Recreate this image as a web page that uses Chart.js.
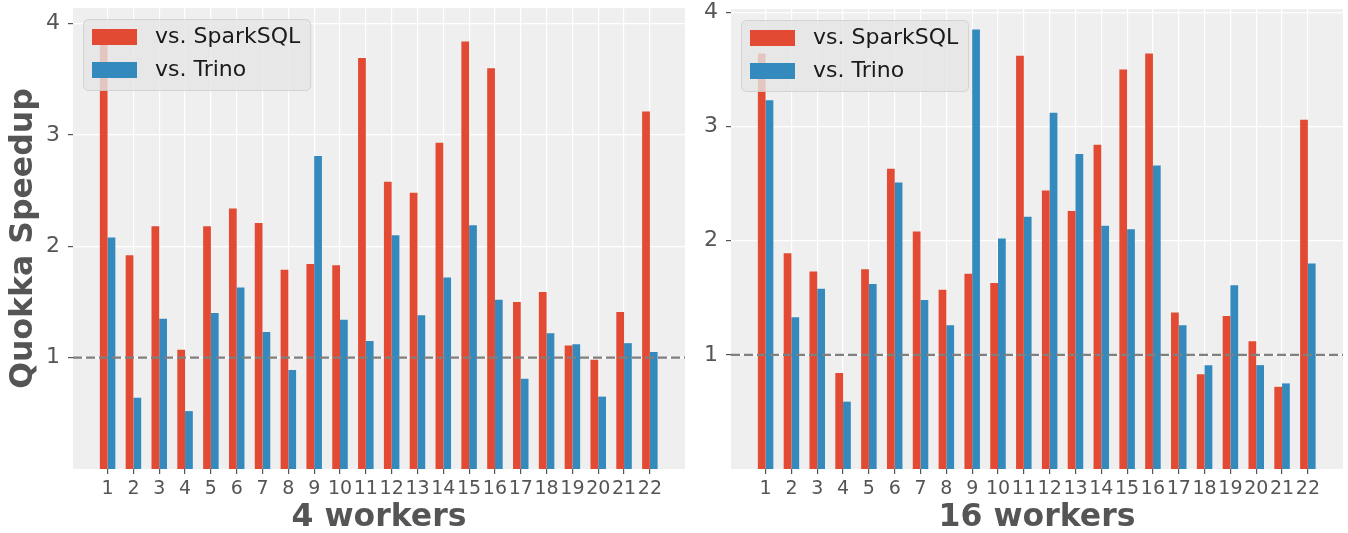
<!DOCTYPE html>
<html>
<head>
<meta charset="utf-8">
<script src="https://cdn.jsdelivr.net/npm/chart.js@4.4.1/dist/chart.umd.min.js"></script>
<style>
  html, body { margin: 0; padding: 0; background: #fff; }
  #wrap { position: relative; width: 1348px; height: 533px; }
  #left { position: absolute; left: 0; top: 0; }
  #right { position: absolute; left: 690px; top: 0; }
</style>
</head>
<body>
<div id="wrap">
  <canvas id="left" width="690" height="533"></canvas>
  <canvas id="right" width="658" height="533"></canvas>
</div>
<script>
// TPC-H query numbers
const queries = [1, 2, 3, 4, 5, 6, 7, 8, 9, 10, 11, 12, 13, 14, 15, 16, 17, 18, 19, 20, 21, 22];

// 4 workers
const spark4 = [3.82, 1.92, 2.18, 1.07, 2.18, 2.34, 2.21, 1.79, 1.84, 1.83, 3.69, 2.58,
                2.48, 2.93, 3.84, 3.60, 1.50, 1.59, 1.11, 0.98, 1.41, 3.21];
const trino4 = [2.08, 0.64, 1.35, 0.52, 1.40, 1.63, 1.23, 0.89, 2.81, 1.34, 1.15, 2.10,
                1.38, 1.72, 2.19, 1.52, 0.81, 1.22, 1.12, 0.65, 1.13, 1.05];

// 16 workers
const spark16 = [3.64, 1.89, 1.73, 0.84, 1.75, 2.63, 2.08, 1.57, 1.71, 1.63, 3.62, 2.44,
                 2.26, 2.84, 3.50, 3.64, 1.37, 0.83, 1.34, 1.12, 0.72, 3.06];
const trino16 = [3.23, 1.33, 1.58, 0.59, 1.62, 2.51, 1.48, 1.26, 3.85, 2.02, 2.21, 3.12,
                 2.76, 2.13, 2.10, 2.66, 1.26, 0.91, 1.61, 0.91, 0.75, 1.80];

const yTicks = [1, 2, 3, 4];
const baseline = 1;
const seriesNames = ['vs. SparkSQL', 'vs. Trino'];

const RED = '#E24A33';
const BLUE = '#348ABD';
const TEXT = '#555555';
const FONT = "'DejaVu Sans', sans-serif";

const panelBg = {
    id: 'panelBg',
    beforeDraw(chart) {
        const { ctx, chartArea: a } = chart;
        ctx.save();
        ctx.fillStyle = '#EFEFEF';
        ctx.fillRect(a.left, a.top, a.right - a.left, a.bottom - a.top);
        ctx.restore();
    }
};

const baselineLine = {
    id: 'baselineLine',
    afterDatasetsDraw(chart) {
        const { ctx, chartArea: a, scales } = chart;
        const y = scales.y.getPixelForValue(baseline);
        ctx.save();
        ctx.strokeStyle = '#808080';
        ctx.lineWidth = 2.2;
        ctx.setLineDash([9, 4]);
        ctx.beginPath();
        ctx.moveTo(a.left, y);
        ctx.lineTo(a.right, y);
        ctx.stroke();
        ctx.restore();
    }
};

const insideLegend = {
    id: 'insideLegend',
    afterDraw(chart) {
        const { ctx, chartArea: a } = chart;
        ctx.save();
        ctx.font = '22px ' + FONT;
        const textW = Math.max(...chart.data.datasets.map(d => ctx.measureText(d.label).width));
        const x = a.left + 10, y = a.top + 11;
        const w = 72 + textW + 10, h = 71, r = 5;
        ctx.beginPath();
        ctx.roundRect(x + 0.5, y + 0.5, w, h, r);
        ctx.fillStyle = 'rgba(229,229,229,0.8)';
        ctx.fill();
        ctx.strokeStyle = 'rgba(204,204,204,0.8)';
        ctx.lineWidth = 1;
        ctx.stroke();
        chart.data.datasets.forEach((d, i) => {
            const py = y + 10 + i * 33;
            ctx.fillStyle = d.backgroundColor;
            ctx.fillRect(x + 9, py, 45, 16);
            ctx.fillStyle = '#1a1a1a';
            ctx.textBaseline = 'middle';
            ctx.fillText(d.label, x + 72, py + 8);
        });
        ctx.restore();
    }
};

function makeChart(id, spark, trino, xTitle, yTitle, yMax, yAxisWidth, padTop) {
    return new Chart(document.getElementById(id), {
        type: 'bar',
        data: {
            labels: queries,
            datasets: [
                { label: seriesNames[0], data: spark, backgroundColor: RED },
                { label: seriesNames[1], data: trino, backgroundColor: BLUE }
            ]
        },
        options: {
            responsive: false,
            animation: false,
            devicePixelRatio: 1,
            layout: { padding: { top: padTop, right: 5, left: 0, bottom: 0 } },
            datasets: { bar: { categoryPercentage: 0.6, barPercentage: 1.0 } },
            plugins: { legend: { display: false }, tooltip: { enabled: false } },
            scales: {
                x: {
                    type: 'linear',
                    offset: false,
                    min: -0.34,
                    max: 23.36,
                    afterBuildTicks: s => { s.ticks = queries.map(v => ({ value: v })); },
                    afterFit: s => { s.height = 64; s.paddingLeft = 0; s.paddingRight = 0; },
                    grid: { offset: false, color: '#FFFFFF', lineWidth: 1.2, tickColor: TEXT, tickLength: 5 },
                    border: { display: false },
                    ticks: {
                        color: TEXT, font: { family: FONT, size: 19 }, padding: 4,
                        maxRotation: 0, autoSkip: false, callback: v => String(v)
                    },
                    title: {
                        display: true, text: xTitle, color: TEXT,
                        font: { family: FONT, size: 31.5, weight: 'bold' },
                        padding: { top: 0, bottom: -4 }
                    }
                },
                y: {
                    min: 0,
                    max: yMax,
                    afterBuildTicks: s => { s.ticks = yTicks.map(v => ({ value: v })); },
                    afterFit: s => { s.width = yAxisWidth; s.paddingTop = 0; s.paddingBottom = 0; },
                    grid: { color: '#FFFFFF', lineWidth: 1.2, tickColor: TEXT, tickLength: 5 },
                    border: { display: false },
                    ticks: { color: TEXT, font: { family: FONT, size: 22 }, padding: 8 },
                    title: {
                        display: !!yTitle, text: yTitle, color: TEXT,
                        font: { family: FONT, size: 31.5, weight: 'bold' },
                        padding: { top: 5, bottom: 0 }
                    }
                }
            }
        },
        plugins: [panelBg, baselineLine, insideLegend]
    });
}

makeChart('left', spark4, trino4, '4 workers', 'Quokka Speedup', 4.14, 73, 8);
makeChart('right', spark16, trino16, '16 workers', '', 4.03, 41, 9);
</script>
</body>
</html>
